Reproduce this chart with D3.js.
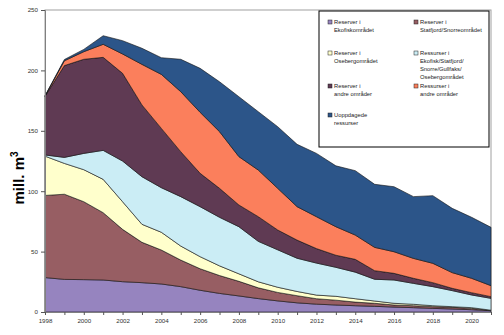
<!DOCTYPE html>
<html>
<head>
<meta charset="utf-8">
<script src="https://cdn.jsdelivr.net/npm/d3@7"></script>
<style>
  body { margin: 0; background: #fff; }
  svg { font-family: "Liberation Sans", Arial, sans-serif; display: block; }
</style>
</head>
<body>
<svg id="chart"></svg>
<script>
// years on the category axis
const years = d3.range(1998, 2022);

// series values (mill. m3), bottom layer first
const ekofiskRes = [28.5, 27, 26.8, 26.5, 25.1, 24.3, 23.2, 21, 18, 15.4, 13.3, 11.1, 9.2, 7.6, 6.5, 5.8, 5.2, 4.7, 4.1, 3.6, 3.0, 2.5, 1.9, 1.1];
const statfjordRes = [68, 70.5, 64.5, 55.7, 43.3, 33.4, 28.1, 22, 17.8, 14.8, 12.1, 8.9, 7, 5.9, 4.5, 4, 3, 2.5, 1.7, 1.6, 1.4, 1.4, 1.1, 0.2];
const osebergRes = [32.5, 25.5, 26.5, 27.6, 22.9, 14.9, 14.7, 11.6, 10, 8, 6.2, 5, 4.3, 3.5, 3, 3.2, 2.8, 1.9, 1.4, 1.2, 0.8, 0.5, 0.6, 0.2];
const omraadeRess = [1, 5, 13.5, 24, 33.7, 39.4, 36.9, 40.9, 41.4, 40.2, 39, 33.5, 31, 27.5, 26.5, 24, 22, 18, 19.3, 17.3, 15.8, 13.3, 10.5, 9.8];
const andreRes = [48.5, 76, 77.9, 77, 72.6, 59.4, 49.1, 37.2, 27.6, 24, 18, 20.4, 16.4, 15, 12, 10, 10.6, 7.1, 5.5, 4.2, 3.3, 1.9, 1.9, 1.4];
const andreRess = [0.2, 4, 6.3, 10.8, 16, 33.6, 44.7, 49.7, 50.5, 46.9, 40, 38.6, 34.5, 27.7, 26.4, 23.6, 20.1, 19.3, 17.9, 16.5, 16, 13, 11.9, 9.1];
const uoppdaget = [0.3, 1, 1.9, 7.1, 11, 13.3, 13.8, 26.8, 36.4, 41.3, 49.6, 48.3, 51, 51.6, 52.4, 50.4, 53.3, 52.2, 53.8, 51.1, 56, 53.2, 50.5, 48.3];

const seriesNames = [
  ["Reserver i", "Ekofiskområdet"],
  ["Reserver i", "Statfjord/Snorreområdet"],
  ["Reserver i", "Osebergområdet"],
  ["Ressurser i", "Ekofisk/Statfjord/", "Snorre/Gullfaks/", "Osebergområdet"],
  ["Reserver i", "andre områder"],
  ["Ressurser i", "andre områder"],
  ["Uoppdagede", "ressurser"]
];
const seriesValues = [ekofiskRes, statfjordRes, osebergRes, omraadeRess, andreRes, andreRess, uoppdaget];
const colors = ["#9684bf", "#975e63", "#ffffcc", "#cbedf5", "#5f3a53", "#fb7f5c", "#2c5589"];

const yTicks = [0, 50, 100, 150, 200, 250];

// build rows for the stack
const keys = d3.range(seriesValues.length);
const rows = years.map((yr, i) => {
  let r = { year: yr };
  keys.forEach((k) => { r[k] = seriesValues[k][i]; });
  return r;
});

const width = 504, height = 335;
const padLeft = 45, padRight = 491, padTop = 10, padBottom = 312;

const svg = d3.select("#chart").attr("width", width).attr("height", height);

const x = d3.scaleLinear().domain([1998, 2021]).range([padLeft, padRight]);
const y = d3.scaleLinear().domain([0, 250]).range([padBottom, padTop]);

// plot area border
svg.append("rect")
  .attr("x", padLeft).attr("y", padTop)
  .attr("width", padRight - padLeft).attr("height", padBottom - padTop)
  .attr("fill", "none").attr("stroke", "#a0a0a0").attr("stroke-width", 1);

const stacked = d3.stack().keys(keys)(rows);

const area = d3.area()
  .x((d) => x(d.data.year))
  .y0((d) => y(d[0]))
  .y1((d) => y(d[1]));

svg.append("g")
  .selectAll("path")
  .data(stacked)
  .enter()
  .append("path")
  .attr("d", area)
  .attr("fill", (d, i) => colors[i])
  .attr("stroke", "#111")
  .attr("stroke-width", 0.6)
  .attr("stroke-linejoin", "round");

// y axis
const yAxis = svg.append("g")
  .attr("transform", "translate(" + padLeft + ",0)")
  .call(d3.axisLeft(y).tickValues(yTicks).tickSize(4).tickPadding(3));
// x axis
const xAxis = svg.append("g")
  .attr("transform", "translate(0," + padBottom + ")")
  .call(d3.axisBottom(x).tickValues(years).tickSize(3).tickPadding(4)
    .tickFormat((d) => (d % 2 === 0 ? String(d) : "")));

[yAxis, xAxis].forEach((g) => {
  g.select(".domain").attr("stroke", "#808080");
  g.selectAll(".tick line").attr("stroke", "#555");
  g.selectAll("text").attr("font-size", "6.2px").attr("fill", "#333")
    .attr("font-family", "Liberation Sans, Arial, sans-serif");
});

// y title
svg.append("text")
  .attr("transform", "translate(24,178) rotate(-90)")
  .attr("text-anchor", "middle")
  .attr("font-size", "15px")
  .attr("font-weight", "bold")
  .attr("fill", "#000")
  .text("mill. m")
  .append("tspan")
  .attr("font-size", "10px")
  .attr("dy", "-6")
  .text("3");

// legend
const legend = svg.append("g");
legend.append("rect")
  .attr("x", 319).attr("y", 11)
  .attr("width", 170).attr("height", 136)
  .attr("fill", "#fff").attr("stroke", "#000").attr("stroke-width", 1);

const colX = [328, 414];
const rowY = [24, 55, 88, 117];
seriesNames.forEach((lines, i) => {
  const cx = colX[i % 2];
  const cy = rowY[Math.floor(i / 2)];
  legend.append("rect")
    .attr("x", cx).attr("y", cy - 4)
    .attr("width", 4).attr("height", 4)
    .attr("fill", colors[i]).attr("stroke", "#222").attr("stroke-width", 0.5);
  const t = legend.append("text")
    .attr("x", cx + 6).attr("y", cy)
    .attr("font-size", "5.8px").attr("fill", "#222");
  lines.forEach((line, j) => {
    t.append("tspan").attr("x", cx + 6).attr("dy", j === 0 ? 0 : 8).text(line);
  });
});
</script>
</body>
</html>
